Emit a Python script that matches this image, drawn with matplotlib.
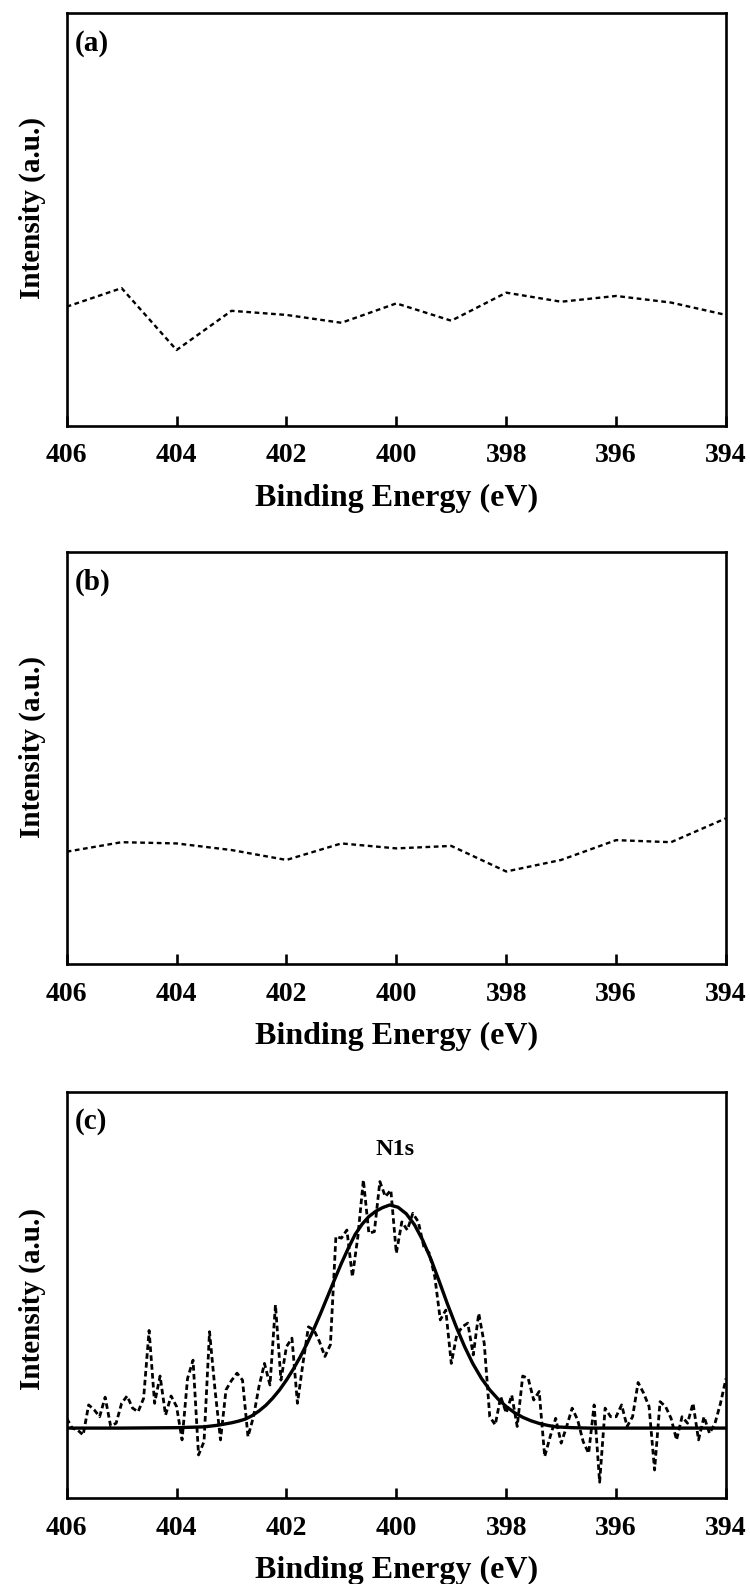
import numpy as np
import matplotlib

matplotlib.use("Agg")
import matplotlib.pyplot as plt

plt.rcParams["font.family"] = ["Liberation Serif", "DejaVu Serif"]
plt.rcParams["font.weight"] = "bold"

# panel (a) and (b): coarse survey, 1 eV steps
ab_energy = [406, 405, 404, 403, 402, 401, 400, 399, 398, 397, 396, 395, 394]
a_intensity = [0.289, 0.334, 0.184, 0.279, 0.269, 0.250, 0.297, 0.255, 0.323, 0.301, 0.315, 0.299, 0.269]
b_intensity = [0.273, 0.296, 0.293, 0.277, 0.253, 0.293, 0.281, 0.287, 0.225, 0.253, 0.301, 0.296, 0.354]

# panel (c): N1s raw scan, 0.1 eV steps from 406 to 394
c_energy = np.linspace(406.0, 394.0, 121)
c_intensity = [
    0.197, 0.173, 0.168, 0.156, 0.230, 0.218, 0.201, 0.249, 0.178, 0.185,
    0.234, 0.252, 0.222, 0.213, 0.246, 0.413, 0.234, 0.301, 0.205, 0.252,
    0.226, 0.144, 0.295, 0.340, 0.107, 0.140, 0.410, 0.267, 0.144, 0.267,
    0.290, 0.308, 0.291, 0.152, 0.201, 0.275, 0.332, 0.279, 0.476, 0.291,
    0.373, 0.394, 0.234, 0.332, 0.422, 0.414, 0.386, 0.349, 0.378, 0.644,
    0.640, 0.660, 0.545, 0.644, 0.783, 0.652, 0.656, 0.779, 0.742, 0.758,
    0.603, 0.680, 0.660, 0.701, 0.680, 0.619, 0.603, 0.545, 0.439, 0.463,
    0.332, 0.402, 0.422, 0.431, 0.353, 0.455, 0.381, 0.201, 0.181, 0.250,
    0.210, 0.254, 0.177, 0.301, 0.295, 0.242, 0.263, 0.103, 0.152, 0.197,
    0.136, 0.177, 0.222, 0.193, 0.140, 0.111, 0.230, 0.040, 0.222, 0.201,
    0.201, 0.230, 0.177, 0.201, 0.285, 0.259, 0.226, 0.070, 0.238, 0.226,
    0.197, 0.144, 0.201, 0.185, 0.234, 0.144, 0.201, 0.160, 0.185, 0.234,
    0.295,
]

# fitted N1s envelope
fit_energy = [406.0, 405.0, 404.0, 403.5, 403.25, 403.0, 402.875, 402.75, 402.625, 402.5,
              402.375, 402.25, 402.125, 402.0, 401.875, 401.75, 401.625, 401.5, 401.375, 401.25,
              401.125, 401.0, 400.875, 400.75, 400.625, 400.5, 400.375, 400.25, 400.12, 399.97,
              399.82, 399.67, 399.52, 399.37, 399.22, 399.07, 398.91, 398.76, 398.61, 398.45,
              398.30, 398.15, 398.0, 397.85, 397.7, 397.55, 397.39, 397.24, 397.09, 396.8,
              396.5, 396.0, 395.0, 394.0]
fit_intensity = [0.173, 0.173, 0.174, 0.176, 0.180, 0.186, 0.190, 0.195, 0.2035, 0.215,
                 0.229, 0.2466, 0.267, 0.291, 0.318, 0.348, 0.381, 0.417, 0.456, 0.497,
                 0.538, 0.578, 0.615, 0.649, 0.674, 0.693, 0.706, 0.715, 0.7215, 0.716,
                 0.700, 0.673, 0.635, 0.588, 0.534, 0.478, 0.422, 0.374, 0.332, 0.295,
                 0.267, 0.2445, 0.226, 0.211, 0.1996, 0.191, 0.184, 0.1795, 0.176, 0.174,
                 0.173, 0.173, 0.173, 0.173]

xticks = [406, 404, 402, 400, 398, 396, 394]

fig = plt.figure(figsize=(7.5, 15.84), dpi=100, facecolor="white")

LEFT, WIDTH = 0.0889, 0.8791
panels = [
    ("(a)", [LEFT, 0.7311, WIDTH, 0.2605], 0.527),
    ("(b)", [LEFT, 0.3912, WIDTH, 0.2605], 0.527),
    ("(c)", [LEFT, 0.0540, WIDTH, 0.2568], 0.49),
]

axes = []
for tag, rect, ylab_y in panels:
    ax = fig.add_axes(rect)
    ax.set_xlim(406, 394)
    ax.set_ylim(0, 1)
    ax.set_yticks([])
    ax.set_xticks(xticks)
    ax.set_xticklabels([str(t) for t in xticks])
    ax.tick_params(axis="x", direction="in", length=7.2, width=1.9, top=False, pad=12.5,
                   labelsize=20)
    for sp in ax.spines.values():
        sp.set_linewidth(1.9)
    ax.set_xlabel("Binding Energy (eV)", fontsize=23, fontweight="bold")
    ax.xaxis.set_label_coords(0.5, -0.14)
    ax.set_ylabel("Intensity (a.u.)", fontsize=21, fontweight="bold")
    ax.yaxis.set_label_coords(-0.032, ylab_y)
    ax.text(0.0126, 0.926, tag, transform=ax.transAxes, fontsize=21, fontweight="bold",
            ha="left", va="center")
    axes.append(ax)

ax_a, ax_b, ax_c = axes

ax_a.plot(ab_energy, a_intensity, color="black", lw=1.7, linestyle=(0, (2.0, 1.5)))
ax_b.plot(ab_energy, b_intensity, color="black", lw=1.7, linestyle=(0, (2.0, 1.5)))

ax_c.plot(c_energy, c_intensity, color="black", lw=2.0, linestyle=(0, (2.0, 1.2)))
ax_c.plot(fit_energy, fit_intensity, color="black", lw=2.4, solid_joinstyle="round")
ax_c.text(400.03, 0.858, "N1s", fontsize=17.5, fontweight="bold", ha="center", va="center")

fig.savefig("out.png", dpi=100, facecolor="white")
